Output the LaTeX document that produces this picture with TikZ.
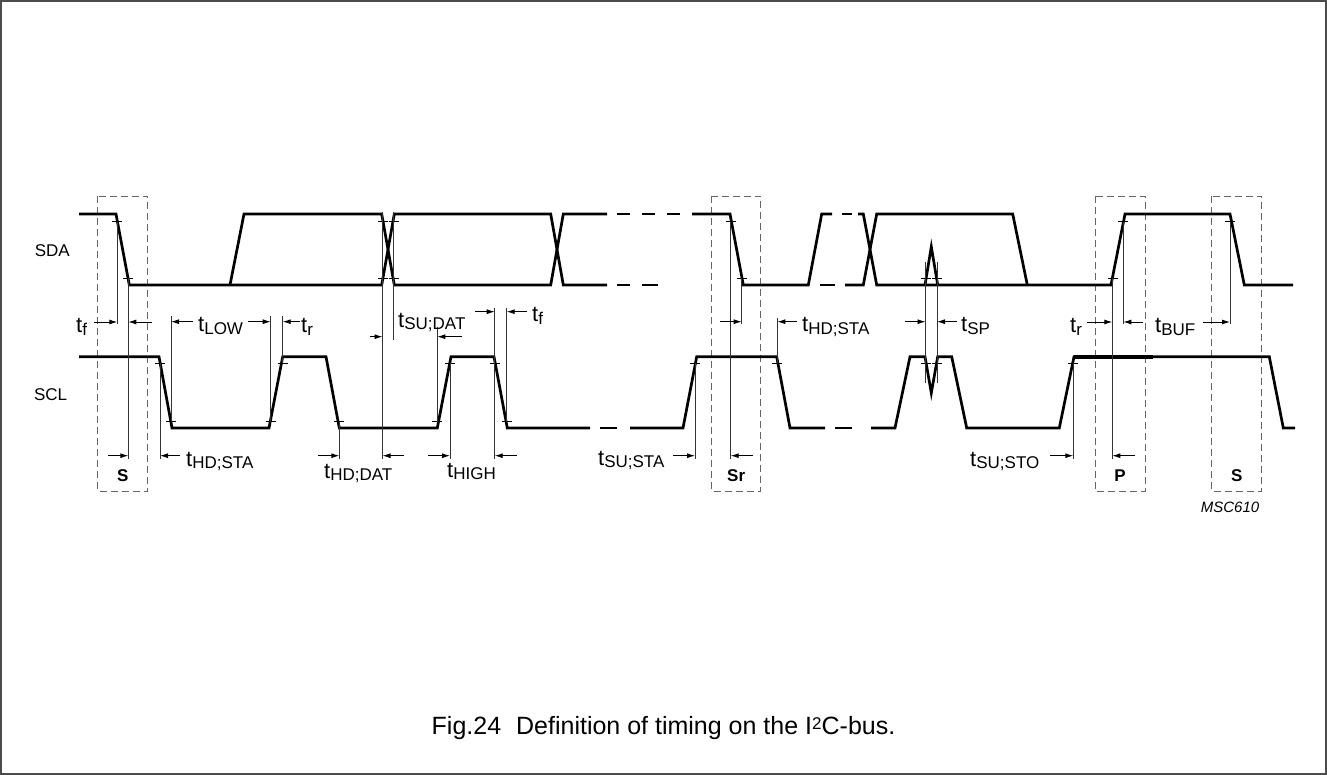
\documentclass[tikz,border=0pt]{standalone}
\usepackage{fontspec}
\setmainfont{Liberation Sans}
\usetikzlibrary{arrows.meta}
\newcommand\tm[1]{{\fontsize{22}{22}\selectfont t}\raisebox{-2pt}{\fontsize{17}{17}\selectfont #1}}
\tikzset{
  sig/.style={line width=2.7pt, line join=miter, line cap=butt},
  meas/.style={line width=0.8pt, draw=black!80},
  tickmark/.style={line width=0.8pt},
  dimarrow/.style={line width=0.9pt, -{Latex[length=8pt,width=5pt]}},
  condbox/.style={draw=black!60, line width=0.9pt, dash pattern=on 7pt off 4pt},
  lab/.style={inner sep=0pt, anchor=base west},
  sig label/.style={inner sep=0pt, anchor=base east, font=\fontsize{17}{17}\selectfont},
  box label/.style={inner sep=0pt, font=\fontsize{17}{17}\selectfont\bfseries}
}
\begin{document}
\begin{tikzpicture}[x=1pt,y=-1pt]
\useasboundingbox (0,0) rectangle (1327,775);
\draw[line width=1.2pt, black!70] (1,1) rectangle (1326,774);

% condition boxes
\draw[condbox] (97.7,196) rectangle (147.7,491);
\draw[condbox] (711.7,196) rectangle (760.7,491);
\draw[condbox] (1095,196) rectangle (1145,491);
\draw[condbox] (1211.7,196) rectangle (1261.7,491);

% SDA
\draw[sig] (79,214) -- (116,214) -- (129.3,285) -- (381.7,285) -- (394.3,214) -- (550.7,214) -- (563.3,285) -- (607,285);
\draw[sig] (230,285) -- (244,214) -- (381.7,214) -- (394.3,285) -- (550.7,285) -- (563.3,214) -- (607,214);
\draw[sig] (617,285) -- (630,285) (642,285) -- (658,285);
\draw[sig] (617,214) -- (630,214) (642,214) -- (655,214) (667,214) -- (680,214);
\draw[sig] (692,214) -- (730,214) -- (743.3,285) -- (808.3,285) -- (821.7,214) -- (832,214);
\draw[sig] (820,285) -- (835,285);
\draw[sig] (842,214) -- (852,214);
\draw[sig] (845,285) -- (863.3,285) -- (876.7,214) -- (1012.7,214) -- (1027.3,285);
\draw[sig] (858,214) -- (863.3,214) -- (876.7,285) -- (1111,285) -- (1125,214) -- (1230,214) -- (1244.3,285) -- (1293,285);
\draw[sig] (925,285) -- (931.3,246.7) -- (937.7,285);

% SCL
\draw[sig] (79,356.7) -- (159,356.7) -- (172,428) -- (269,428) -- (282.7,356.7) -- (326,356.7) -- (339.3,428) -- (437.3,428) -- (451,356.7) -- (494,356.7) -- (507.3,428) -- (590,428);
\draw[sig] (600,428) -- (617,428);
\draw[sig] (630,428) -- (683,428) -- (696.7,356.7) -- (776.7,356.7) -- (790,428) -- (825,428);
\draw[sig] (835,428) -- (852,428);
\draw[sig] (871,428) -- (895,428) -- (910,356.7) -- (925,356.7) -- (931.3,393) -- (937.7,356.7) -- (951.7,356.7) -- (966.7,428) -- (1059.3,428) -- (1074,356.7) -- (1269.3,356.7) -- (1283.3,428) -- (1295,428);
\draw[line width=3.6pt] (1074,356.7) -- (1153,356.7);

% ticks
\foreach \x/\y in {117.3/221.7,128.3/278.3,382.5/221.7,382.5/278.3,393.7/221.7,393.7/278.3,730.7/221.7,741.7/278.3,925.5/278.3,937/278.3,1113/278.3,1123.3/221.7,1230/221.7,
  160/363.3,171/421.7,270.7/421.7,282.7/363.3,339.3/421.7,437.3/421.7,450/363.3,494.7/363.3,506.7/421.7,695/363.3,777.3/363.3,925.5/363.3,937/363.3,1073.3/363.3}
  \draw[tickmark] (\x-5,\y) -- (\x+5,\y);

% measurement lines
\draw[meas] (117.3,221.7) -- (117.3,324) (128.3,278.3) -- (128.3,459)
  (160,363.3) -- (160,459) (171,421.7) -- (171,316) (270.7,421.7) -- (270.7,316)
  (282.7,363.3) -- (282.7,316) (339.3,421.7) -- (339.3,459) (382.5,212) -- (382.5,459)
  (393.7,212) -- (393.7,340) (437.3,421.7) -- (437.3,327) (450,363.3) -- (450,459)
  (494.7,308) -- (494.7,459) (506.7,421.7) -- (506.7,308) (695,363.3) -- (695,459)
  (730.7,221.7) -- (730.7,459) (741.7,278.3) -- (741.7,324) (777.3,363.3) -- (777.3,318)
  (925.5,262) -- (925.5,383) (937,262) -- (937,383) (1073.3,363.3) -- (1073.3,459)
  (1112.3,278.3) -- (1112.3,459) (1123.3,221.7) -- (1123.3,324) (1230,221.7) -- (1230,324);

% dimension arrows
\foreach \a/\b/\y in {94/117.3/322, 152/128.3/322, 108/128.3/455.7, 180/160/455.7,
  193/171/321.7, 248/270.7/321.7, 300/282.7/321.7, 318/339.3/455.7, 404/382.5/455.7,
  370/382.5/336.7, 462/437.3/336.7, 475/494.7/311.7, 527/506.7/311.7, 428/450/455.7,
  517/494.7/455.7, 673/695/455.7, 753/730.7/455.7, 720/741.7/321.7, 797/777.3/321.7,
  905/925.5/321.7, 957/937/321.7, 1050/1073.3/455.7, 1087/1112.3/322, 1135/1112.3/455.7,
  1143/1123.3/322, 1203/1230/322}
  \draw[dimarrow] (\a,\y) -- (\b,\y);

% signal names
\node[sig label] (sda) at (70,256.7) {SDA};
\node[sig label] (scl) at (67.3,400.7) {SCL};

% timing labels
\node[lab] (tf1) at (76,333) {\tm{f}};
\node[lab] (tlow) at (198,332) {\tm{LOW}};
\node[lab] (tr1) at (301,333) {\tm{r}};
\node[lab] (tsudat) at (398,327) {\tm{SU;DAT}};
\node[lab] (tf2) at (532,322) {\tm{f}};
\node[lab] (thdsta1) at (186,466) {\tm{HD;STA}};
\node[lab] (thddat) at (324,478) {\tm{HD;DAT}};
\node[lab] (thigh) at (447,477) {\tm{HIGH}};
\node[lab] (tsusta) at (598,465) {\tm{SU;STA}};
\node[lab] (thdsta2) at (802,332) {\tm{HD;STA}};
\node[lab] (tsp) at (961,332) {\tm{SP}};
\node[lab] (tsusto) at (970,466) {\tm{SU;STO}};
\node[lab] (tr2) at (1070,333) {\tm{r}};
\node[lab] (tbuf) at (1155,333) {\tm{BUF}};

% condition labels
\node[box label] (s1) at (122.7,476) {S};
\node[box label] (sr) at (736.2,476) {Sr};
\node[box label] (p) at (1120,476) {P};
\node[box label] (s2) at (1236.7,476) {S};

\node[inner sep=0pt, font=\fontsize{15}{15}\selectfont\itshape] (code) at (1230,507) {MSC610};
\node[inner sep=0pt, font=\fontsize{25}{25}\selectfont] (cap) at (663.5,728) {Fig.24\hspace{0.6em}Definition of timing on the I\raisebox{5pt}{\fontsize{17}{17}\selectfont 2}C-bus.};
\end{tikzpicture}
\end{document}
